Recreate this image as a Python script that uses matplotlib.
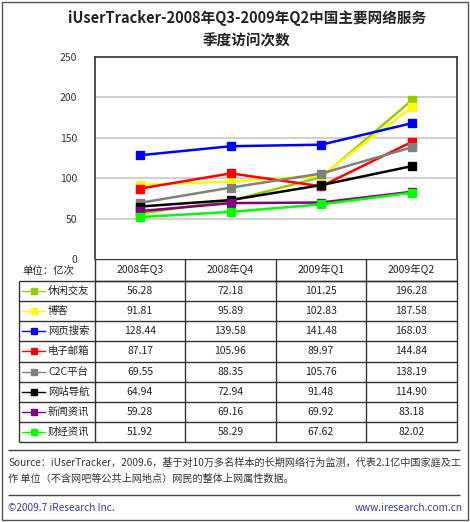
import matplotlib
matplotlib.use('Agg')
import matplotlib.pyplot as plt
from matplotlib.lines import Line2D

plt.rcParams['font.family'] = ['Noto Sans CJK SC', 'DejaVu Sans']

# data
quarters = ['2008年Q3', '2008年Q4', '2009年Q1', '2009年Q2']
names = ['休闲交友', '博客', '网页搜索', '电子邮箱', 'C2C平台', '网站导航', '新闻资讯', '财经资讯']
leisure = [56.28, 72.18, 101.25, 196.28]
blog = [91.81, 95.89, 102.83, 187.58]
search = [128.44, 139.58, 141.48, 168.03]
email = [87.17, 105.96, 89.97, 144.84]
c2c = [69.55, 88.35, 105.76, 138.19]
nav = [64.94, 72.94, 91.48, 114.90]
news = [59.28, 69.16, 69.92, 83.18]
finance = [51.92, 58.29, 67.62, 82.02]
series = [leisure, blog, search, email, c2c, nav, news, finance]
colors = ['#99cc00', '#ffff00', '#0000ff', '#ff0000', '#808080', '#000000', '#800080', '#00ff00']
yticks = [0, 50, 100, 150, 200, 250]

W, H = 470, 522
fig = plt.figure(figsize=(W / 100, H / 100), dpi=100)

# pixel layout
px_l, px_r, px_t, px_b = 95, 457, 57, 259
ax = fig.add_axes([px_l / W, 1 - px_b / H, (px_r - px_l) / W, (px_b - px_t) / H])
ax.set_xlim(0, 4)
ax.set_ylim(0, 250)
xs = [i + 0.5 for i in range(4)]
for vals, c in zip(series, colors):
    ax.plot(xs, vals, color=c, lw=1.8, marker='s', ms=5.5, zorder=3)
ax.set_yticks(yticks)
ax.set_yticklabels([str(v) for v in yticks], fontsize=7.5, color='#333333')
ax.set_xticks([])
ax.tick_params(axis='y', length=0, pad=13)
for v in yticks[1:-1]:
    ax.axhline(v, color='#c8c8c8', lw=1.2, zorder=1)
for s in ax.spines.values():
    s.set_color('#404040')
    s.set_linewidth(1.3)
ax.spines['bottom'].set_visible(False)

# overlay in pixel coordinates for the table and texts
ov = fig.add_axes([0, 0, 1, 1], zorder=-1)
ov.set_xlim(0, W)
ov.set_ylim(H, 0)
ov.axis('off')

def hline(x0, x1, y, c='#333333', lw=1.0):
    ov.plot([x0, x1], [y, y], color=c, lw=lw, solid_capstyle='butt')

def vline(x, y0, y1, c='#333333', lw=1.0):
    ov.plot([x, x], [y0, y1], color=c, lw=lw, solid_capstyle='butt')

# outer frame
ov.add_patch(plt.Rectangle((2, 1.5), 466, 518, fill=False, ec='#555555', lw=1.0))

# title
ov.text(247, 18, 'iUserTracker-2008年Q3-2009年Q2中国主要网络服务', ha='center', va='center',
        fontsize=10.5, fontweight='bold', color='#222222')
ov.text(247, 40, '季度访问次数', ha='center', va='center', fontsize=10.5, fontweight='bold', color='#222222')

# table
col_x = [19, 95, 185, 276, 366, 457]
head_t, head_b = 259, 281
row_h = (442 - 281) / 8
hline(95, 457, head_t)
hline(95, 457, head_b)
for x in col_x[1:]:
    vline(x, head_t, 442)
for i, q in enumerate(quarters):
    ov.text((col_x[i + 1] + col_x[i + 2]) / 2, (head_t + head_b) / 2, q, ha='center', va='center',
            fontsize=7.5, color='#222222')
ov.text(22, 271, '单位：亿次', ha='left', va='center', fontsize=7.5, color='#222222')

for r, (nm, vals, c) in enumerate(zip(names, series, colors)):
    y0 = head_b + r * row_h
    y1 = y0 + row_h
    ym = (y0 + y1) / 2
    hline(19, 457, y1)
    ov.add_line(Line2D([22, 45], [ym, ym], color=c, lw=1.0))
    ov.plot([33.5], [ym], marker='s', ms=4, color=c, mec=c)
    ov.text(48, ym, nm, ha='left', va='center', fontsize=7.5, color='#222222')
    for i, v in enumerate(vals):
        ov.text((col_x[i + 1] + col_x[i + 2]) / 2, ym, '%.2f' % v, ha='center', va='center',
                fontsize=7.5, color='#222222')
hline(19, 457, head_b)
vline(19, head_b, 442)

# source and footer
hline(8, 460, 450, c='#444444')
ov.text(8, 463, 'Source：iUserTracker，2009.6，基于对10万多名样本的长期网络行为监测，代表2.1亿中国家庭及工',
        ha='left', va='center', fontsize=7.3, color='#333333')
ov.text(8, 479, '作 单位（不含网吧等公共上网地点）网民的整体上网属性数据。',
        ha='left', va='center', fontsize=7.3, color='#333333')
hline(8, 460, 495, c='#444444')
ov.text(8, 508, '©2009.7 iResearch Inc.', ha='left', va='center', fontsize=7.3, color='#3a3aa0')
ov.text(463, 508, 'www.iresearch.com.cn', ha='right', va='center', fontsize=7.3, color='#3a3aa0')

fig.savefig('out.png', dpi=100)
